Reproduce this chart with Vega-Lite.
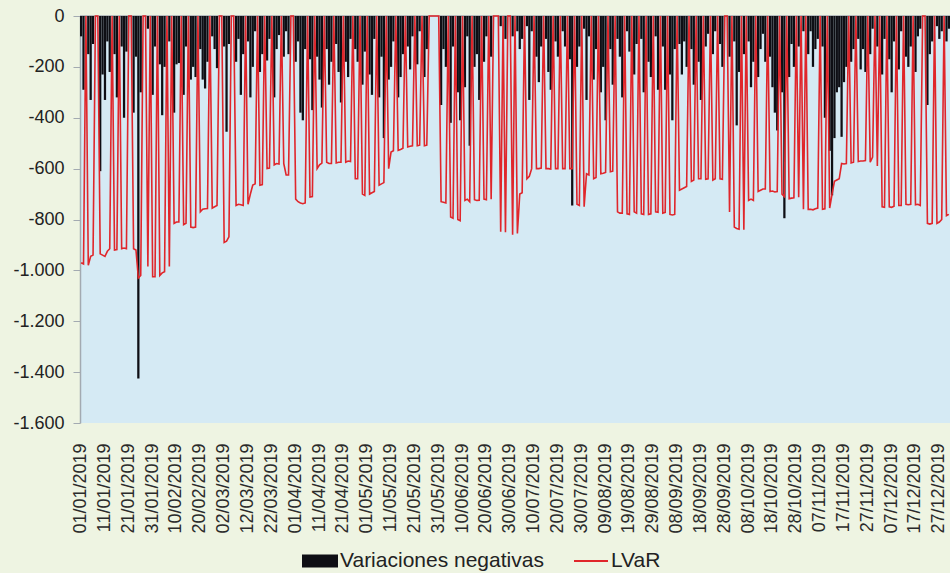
{
"$schema": "https://vega.github.io/schema/vega-lite/v6.json",
"width": 870, "height": 407,
"autosize": {"type": "none"},
"padding": {"left": 80, "top": 16, "right": 0, "bottom": 150},
"background": "#eef4e2",
"config": {"view": {"fill": "#d5eaf4", "stroke": null}, "font": "Liberation Sans"},
"datasets": {"main": [
{"d":"01/01/2019","v":-80,"l":-970},{"d":"02/01/2019","v":-290,"l":-975},{"d":"03/01/2019","v":0,"l":0},{"d":"04/01/2019","v":-150,"l":-980},{"d":"05/01/2019","v":-330,"l":-945},{"d":"06/01/2019","v":-110,"l":-940},{"d":"07/01/2019","v":0,"l":0},{"d":"08/01/2019","v":0,"l":0},{"d":"09/01/2019","v":-610,"l":-935},{"d":"10/01/2019","v":-230,"l":-940},{"d":"11/01/2019","v":-330,"l":-945},{"d":"12/01/2019","v":-100,"l":-925},{"d":"13/01/2019","v":-220,"l":-915},{"d":"14/01/2019","v":0,"l":0},{"d":"15/01/2019","v":-150,"l":-920},{"d":"16/01/2019","v":-320,"l":-918},{"d":"17/01/2019","v":0,"l":0},{"d":"18/01/2019","v":-120,"l":-915},{"d":"19/01/2019","v":-400,"l":-912},{"d":"20/01/2019","v":-140,"l":-915},{"d":"21/01/2019","v":0,"l":0},{"d":"22/01/2019","v":0,"l":0},{"d":"23/01/2019","v":-380,"l":-915},{"d":"24/01/2019","v":-160,"l":-920},{"d":"25/01/2019","v":-1425,"l":-1030},{"d":"26/01/2019","v":-300,"l":-1020},{"d":"27/01/2019","v":0,"l":0},{"d":"28/01/2019","v":0,"l":0},{"d":"29/01/2019","v":-50,"l":-985},{"d":"30/01/2019","v":0,"l":0},{"d":"31/01/2019","v":-310,"l":-1025},
{"d":"01/02/2019","v":-120,"l":-1025},{"d":"02/02/2019","v":0,"l":0},{"d":"03/02/2019","v":-190,"l":-1020},{"d":"04/02/2019","v":-390,"l":-1010},{"d":"05/02/2019","v":-200,"l":-1005},{"d":"06/02/2019","v":0,"l":0},{"d":"07/02/2019","v":-100,"l":-985},{"d":"08/02/2019","v":0,"l":0},{"d":"09/02/2019","v":-380,"l":-815},{"d":"10/02/2019","v":-190,"l":-810},{"d":"11/02/2019","v":-185,"l":-810},{"d":"12/02/2019","v":0,"l":0},{"d":"13/02/2019","v":-310,"l":-820},{"d":"14/02/2019","v":-120,"l":-815},{"d":"15/02/2019","v":0,"l":0},{"d":"16/02/2019","v":-250,"l":-830},{"d":"17/02/2019","v":-200,"l":-832},{"d":"18/02/2019","v":-240,"l":-830},{"d":"19/02/2019","v":0,"l":0},{"d":"20/02/2019","v":-130,"l":-770},{"d":"21/02/2019","v":-250,"l":-760},{"d":"22/02/2019","v":-285,"l":-758},{"d":"23/02/2019","v":-180,"l":-757},{"d":"24/02/2019","v":0,"l":0},{"d":"25/02/2019","v":-80,"l":-755},{"d":"26/02/2019","v":-130,"l":-750},{"d":"27/02/2019","v":-205,"l":-745},{"d":"28/02/2019","v":0,"l":0},
{"d":"01/03/2019","v":0,"l":0},{"d":"02/03/2019","v":-120,"l":-890},{"d":"03/03/2019","v":-455,"l":-885},{"d":"04/03/2019","v":-110,"l":-868},{"d":"05/03/2019","v":0,"l":0},{"d":"06/03/2019","v":0,"l":0},{"d":"07/03/2019","v":-180,"l":-745},{"d":"08/03/2019","v":-90,"l":-740},{"d":"09/03/2019","v":-310,"l":-742},{"d":"10/03/2019","v":-150,"l":-745},{"d":"11/03/2019","v":0,"l":0},{"d":"12/03/2019","v":-100,"l":-740},{"d":"13/03/2019","v":-320,"l":-700},{"d":"14/03/2019","v":-200,"l":-665},{"d":"15/03/2019","v":-60,"l":-660},{"d":"16/03/2019","v":0,"l":0},{"d":"17/03/2019","v":-220,"l":-665},{"d":"18/03/2019","v":-150,"l":-663},{"d":"19/03/2019","v":0,"l":0},{"d":"20/03/2019","v":-175,"l":-600},{"d":"21/03/2019","v":-90,"l":-598},{"d":"22/03/2019","v":0,"l":0},{"d":"23/03/2019","v":-320,"l":-585},{"d":"24/03/2019","v":-130,"l":-580},{"d":"25/03/2019","v":-75,"l":-582},{"d":"26/03/2019","v":0,"l":0},{"d":"27/03/2019","v":-160,"l":-580},{"d":"28/03/2019","v":-60,"l":-625},{"d":"29/03/2019","v":-150,"l":-625},{"d":"30/03/2019","v":0,"l":0},{"d":"31/03/2019","v":0,"l":0},
{"d":"01/04/2019","v":-180,"l":-720},{"d":"02/04/2019","v":-100,"l":-730},{"d":"03/04/2019","v":-380,"l":-735},{"d":"04/04/2019","v":-410,"l":-738},{"d":"05/04/2019","v":-130,"l":-735},{"d":"06/04/2019","v":0,"l":0},{"d":"07/04/2019","v":-170,"l":-712},{"d":"08/04/2019","v":-370,"l":-710},{"d":"09/04/2019","v":0,"l":0},{"d":"10/04/2019","v":-160,"l":-600},{"d":"11/04/2019","v":-250,"l":-585},{"d":"12/04/2019","v":-360,"l":-578},{"d":"13/04/2019","v":0,"l":0},{"d":"14/04/2019","v":-130,"l":-575},{"d":"15/04/2019","v":-270,"l":-580},{"d":"16/04/2019","v":-180,"l":-580},{"d":"17/04/2019","v":0,"l":0},{"d":"18/04/2019","v":-110,"l":-578},{"d":"19/04/2019","v":-220,"l":-575},{"d":"20/04/2019","v":-340,"l":-575},{"d":"21/04/2019","v":0,"l":0},{"d":"22/04/2019","v":-180,"l":-575},{"d":"23/04/2019","v":-240,"l":-570},{"d":"24/04/2019","v":-90,"l":-572},{"d":"25/04/2019","v":0,"l":0},{"d":"26/04/2019","v":-130,"l":-640},{"d":"27/04/2019","v":-180,"l":-640},{"d":"28/04/2019","v":0,"l":0},{"d":"29/04/2019","v":-270,"l":-700},{"d":"30/04/2019","v":-140,"l":-705},
{"d":"01/05/2019","v":0,"l":0},{"d":"02/05/2019","v":-230,"l":-700},{"d":"03/05/2019","v":-310,"l":-695},{"d":"04/05/2019","v":-90,"l":-690},{"d":"05/05/2019","v":0,"l":0},{"d":"06/05/2019","v":-320,"l":-665},{"d":"07/05/2019","v":-160,"l":-660},{"d":"08/05/2019","v":-480,"l":-655},{"d":"09/05/2019","v":0,"l":0},{"d":"10/05/2019","v":-250,"l":-600},{"d":"11/05/2019","v":-200,"l":-535},{"d":"12/05/2019","v":-100,"l":-530},{"d":"13/05/2019","v":0,"l":0},{"d":"14/05/2019","v":-320,"l":-528},{"d":"15/05/2019","v":-240,"l":-525},{"d":"16/05/2019","v":-150,"l":-520},{"d":"17/05/2019","v":0,"l":0},{"d":"18/05/2019","v":-120,"l":-515},{"d":"19/05/2019","v":-210,"l":-512},{"d":"20/05/2019","v":-80,"l":-510},{"d":"21/05/2019","v":0,"l":0},{"d":"22/05/2019","v":-190,"l":-510},{"d":"23/05/2019","v":-60,"l":-508},{"d":"24/05/2019","v":0,"l":0},{"d":"25/05/2019","v":-240,"l":-510},{"d":"26/05/2019","v":-130,"l":-508},{"d":"27/05/2019","v":0,"l":0},{"d":"28/05/2019","v":0,"l":0},{"d":"29/05/2019","v":0,"l":0},{"d":"30/05/2019","v":0,"l":0},{"d":"31/05/2019","v":0,"l":0},
{"d":"01/06/2019","v":-350,"l":-730},{"d":"02/06/2019","v":-130,"l":-732},{"d":"03/06/2019","v":-200,"l":-735},{"d":"04/06/2019","v":0,"l":0},{"d":"05/06/2019","v":-420,"l":-790},{"d":"06/06/2019","v":-120,"l":-795},{"d":"07/06/2019","v":0,"l":0},{"d":"08/06/2019","v":-300,"l":-800},{"d":"09/06/2019","v":-410,"l":-805},{"d":"10/06/2019","v":0,"l":0},{"d":"11/06/2019","v":-280,"l":-725},{"d":"12/06/2019","v":-80,"l":-720},{"d":"13/06/2019","v":-510,"l":-730},{"d":"14/06/2019","v":0,"l":0},{"d":"15/06/2019","v":-200,"l":-722},{"d":"16/06/2019","v":-150,"l":-725},{"d":"17/06/2019","v":-330,"l":-724},{"d":"18/06/2019","v":0,"l":0},{"d":"19/06/2019","v":-180,"l":-720},{"d":"20/06/2019","v":-80,"l":-722},{"d":"21/06/2019","v":0,"l":0},{"d":"22/06/2019","v":-160,"l":-720},{"d":"23/06/2019","v":0,"l":0},{"d":"24/06/2019","v":0,"l":0},{"d":"25/06/2019","v":0,"l":0},{"d":"26/06/2019","v":-40,"l":-848},{"d":"27/06/2019","v":0,"l":0},{"d":"28/06/2019","v":-90,"l":-850},{"d":"29/06/2019","v":0,"l":0},{"d":"30/06/2019","v":0,"l":0},
{"d":"01/07/2019","v":-80,"l":-860},{"d":"02/07/2019","v":0,"l":0},{"d":"03/07/2019","v":-60,"l":-855},{"d":"04/07/2019","v":-130,"l":-700},{"d":"05/07/2019","v":-90,"l":-695},{"d":"06/07/2019","v":0,"l":0},{"d":"07/07/2019","v":-40,"l":-640},{"d":"08/07/2019","v":-330,"l":-630},{"d":"09/07/2019","v":-60,"l":-600},{"d":"10/07/2019","v":0,"l":0},{"d":"11/07/2019","v":-160,"l":-600},{"d":"12/07/2019","v":-260,"l":-600},{"d":"13/07/2019","v":-120,"l":-598},{"d":"14/07/2019","v":0,"l":0},{"d":"15/07/2019","v":-90,"l":-600},{"d":"16/07/2019","v":-220,"l":-600},{"d":"17/07/2019","v":-290,"l":-602},{"d":"18/07/2019","v":0,"l":0},{"d":"19/07/2019","v":-100,"l":-600},{"d":"20/07/2019","v":-160,"l":-600},{"d":"21/07/2019","v":0,"l":0},{"d":"22/07/2019","v":-60,"l":-600},{"d":"23/07/2019","v":-120,"l":-600},{"d":"24/07/2019","v":0,"l":0},{"d":"25/07/2019","v":-170,"l":-600},{"d":"26/07/2019","v":-745,"l":-600},{"d":"27/07/2019","v":0,"l":0},{"d":"28/07/2019","v":-200,"l":-740},{"d":"29/07/2019","v":-120,"l":-745},{"d":"30/07/2019","v":0,"l":0},{"d":"31/07/2019","v":-50,"l":-750},
{"d":"01/08/2019","v":-330,"l":-620},{"d":"02/08/2019","v":-80,"l":-625},{"d":"03/08/2019","v":0,"l":0},{"d":"04/08/2019","v":-250,"l":-640},{"d":"05/08/2019","v":-130,"l":-635},{"d":"06/08/2019","v":0,"l":0},{"d":"07/08/2019","v":-300,"l":-620},{"d":"08/08/2019","v":-200,"l":-618},{"d":"09/08/2019","v":-410,"l":-615},{"d":"10/08/2019","v":0,"l":0},{"d":"11/08/2019","v":-130,"l":-612},{"d":"12/08/2019","v":-270,"l":-610},{"d":"13/08/2019","v":0,"l":0},{"d":"14/08/2019","v":-90,"l":-770},{"d":"15/08/2019","v":-160,"l":-775},{"d":"16/08/2019","v":-320,"l":-775},{"d":"17/08/2019","v":0,"l":0},{"d":"18/08/2019","v":-60,"l":-778},{"d":"19/08/2019","v":-140,"l":-780},{"d":"20/08/2019","v":0,"l":0},{"d":"21/08/2019","v":-230,"l":-770},{"d":"22/08/2019","v":-110,"l":-775},{"d":"23/08/2019","v":0,"l":0},{"d":"24/08/2019","v":-90,"l":-778},{"d":"25/08/2019","v":-300,"l":-780},{"d":"26/08/2019","v":0,"l":0},{"d":"27/08/2019","v":-180,"l":-780},{"d":"28/08/2019","v":-240,"l":-778},{"d":"29/08/2019","v":0,"l":0},{"d":"30/08/2019","v":-80,"l":-770},{"d":"31/08/2019","v":-290,"l":-772},
{"d":"01/09/2019","v":0,"l":0},{"d":"02/09/2019","v":-120,"l":-775},{"d":"03/09/2019","v":-290,"l":-772},{"d":"04/09/2019","v":0,"l":0},{"d":"05/09/2019","v":-230,"l":-780},{"d":"06/09/2019","v":-410,"l":-782},{"d":"07/09/2019","v":-130,"l":-780},{"d":"08/09/2019","v":0,"l":0},{"d":"09/09/2019","v":-110,"l":-685},{"d":"10/09/2019","v":-230,"l":-680},{"d":"11/09/2019","v":-100,"l":-675},{"d":"12/09/2019","v":-200,"l":-670},{"d":"13/09/2019","v":0,"l":0},{"d":"14/09/2019","v":-130,"l":-650},{"d":"15/09/2019","v":-270,"l":-645},{"d":"16/09/2019","v":0,"l":0},{"d":"17/09/2019","v":-180,"l":-640},{"d":"18/09/2019","v":-330,"l":-640},{"d":"19/09/2019","v":0,"l":0},{"d":"20/09/2019","v":-120,"l":-642},{"d":"21/09/2019","v":-70,"l":-640},{"d":"22/09/2019","v":0,"l":0},{"d":"23/09/2019","v":-150,"l":-645},{"d":"24/09/2019","v":-60,"l":-640},{"d":"25/09/2019","v":0,"l":0},{"d":"26/09/2019","v":-110,"l":-640},{"d":"27/09/2019","v":-200,"l":-642},{"d":"28/09/2019","v":0,"l":0},{"d":"29/09/2019","v":0,"l":0},{"d":"30/09/2019","v":-160,"l":-770},
{"d":"01/10/2019","v":0,"l":0},{"d":"02/10/2019","v":-100,"l":-830},{"d":"03/10/2019","v":-430,"l":-835},{"d":"04/10/2019","v":-220,"l":-838},{"d":"05/10/2019","v":0,"l":0},{"d":"06/10/2019","v":-150,"l":-840},{"d":"07/10/2019","v":0,"l":0},{"d":"08/10/2019","v":-100,"l":-725},{"d":"09/10/2019","v":-280,"l":-720},{"d":"10/10/2019","v":-180,"l":-725},{"d":"11/10/2019","v":0,"l":0},{"d":"12/10/2019","v":-240,"l":-690},{"d":"13/10/2019","v":-130,"l":-685},{"d":"14/10/2019","v":-70,"l":-680},{"d":"15/10/2019","v":-180,"l":-680},{"d":"16/10/2019","v":0,"l":0},{"d":"17/10/2019","v":-160,"l":-690},{"d":"18/10/2019","v":-280,"l":-688},{"d":"19/10/2019","v":-380,"l":-692},{"d":"20/10/2019","v":-450,"l":-690},{"d":"21/10/2019","v":0,"l":0},{"d":"22/10/2019","v":-300,"l":-700},{"d":"23/10/2019","v":-795,"l":-710},{"d":"24/10/2019","v":0,"l":0},{"d":"25/10/2019","v":-240,"l":-718},{"d":"26/10/2019","v":-110,"l":-716},{"d":"27/10/2019","v":-200,"l":-715},{"d":"28/10/2019","v":0,"l":0},{"d":"29/10/2019","v":-120,"l":-712},{"d":"30/10/2019","v":0,"l":0},{"d":"31/10/2019","v":-60,"l":-760},
{"d":"01/11/2019","v":0,"l":0},{"d":"02/11/2019","v":-150,"l":-760},{"d":"03/11/2019","v":-60,"l":-760},{"d":"04/11/2019","v":-200,"l":-762},{"d":"05/11/2019","v":-130,"l":-758},{"d":"06/11/2019","v":-90,"l":-755},{"d":"07/11/2019","v":0,"l":0},{"d":"08/11/2019","v":-120,"l":-760},{"d":"09/11/2019","v":-400,"l":-758},{"d":"10/11/2019","v":0,"l":0},{"d":"11/11/2019","v":-530,"l":-755},{"d":"12/11/2019","v":-705,"l":-700},{"d":"13/11/2019","v":-480,"l":-650},{"d":"14/11/2019","v":-300,"l":-645},{"d":"15/11/2019","v":-280,"l":-640},{"d":"16/11/2019","v":-475,"l":-580},{"d":"17/11/2019","v":-260,"l":-582},{"d":"18/11/2019","v":-200,"l":-580},{"d":"19/11/2019","v":0,"l":0},{"d":"20/11/2019","v":-180,"l":-578},{"d":"21/11/2019","v":-130,"l":-575},{"d":"22/11/2019","v":0,"l":0},{"d":"23/11/2019","v":-90,"l":-572},{"d":"24/11/2019","v":-210,"l":-570},{"d":"25/11/2019","v":-130,"l":-570},{"d":"26/11/2019","v":-220,"l":-568},{"d":"27/11/2019","v":0,"l":0},{"d":"28/11/2019","v":-150,"l":-575},{"d":"29/11/2019","v":-50,"l":-555},{"d":"30/11/2019","v":0,"l":0},
{"d":"01/12/2019","v":-120,"l":-590},{"d":"02/12/2019","v":0,"l":0},{"d":"03/12/2019","v":-230,"l":-750},{"d":"04/12/2019","v":-90,"l":-752},{"d":"05/12/2019","v":0,"l":0},{"d":"06/12/2019","v":-170,"l":-750},{"d":"07/12/2019","v":-300,"l":-752},{"d":"08/12/2019","v":-100,"l":-748},{"d":"09/12/2019","v":0,"l":0},{"d":"10/12/2019","v":-210,"l":-745},{"d":"11/12/2019","v":-60,"l":-745},{"d":"12/12/2019","v":0,"l":0},{"d":"13/12/2019","v":-160,"l":-740},{"d":"14/12/2019","v":-200,"l":-742},{"d":"15/12/2019","v":-120,"l":-740},{"d":"16/12/2019","v":0,"l":0},{"d":"17/12/2019","v":-220,"l":-742},{"d":"18/12/2019","v":-80,"l":-740},{"d":"19/12/2019","v":-50,"l":-745},{"d":"20/12/2019","v":0,"l":0},{"d":"21/12/2019","v":0,"l":0},{"d":"22/12/2019","v":-350,"l":-815},{"d":"23/12/2019","v":-150,"l":-818},{"d":"24/12/2019","v":-100,"l":-815},{"d":"25/12/2019","v":0,"l":0},{"d":"26/12/2019","v":-40,"l":-815},{"d":"27/12/2019","v":-90,"l":-810},{"d":"28/12/2019","v":-60,"l":-800},{"d":"29/12/2019","v":0,"l":0},{"d":"30/12/2019","v":-100,"l":-785},{"d":"31/12/2019","v":-50,"l":-780}
]},
"layer": [
{"data": {"values": [{"z": 0}]},
 "mark": {"type": "rule", "color": "#a3aab1", "strokeWidth": 1.5},
 "encoding": {"y": {"field": "z", "type": "quantitative"}}},
{"data": {"name": "main"},
 "mark": {"type": "bar", "color": "#0e0e14"},
 "encoding": {
  "x": {"field": "d", "type": "ordinal", "sort": null,
   "scale": {"paddingInner": 0.05, "paddingOuter": 0},
   "axis": {"title": null, "values": ["01/01/2019","11/01/2019","21/01/2019","31/01/2019","10/02/2019","20/02/2019","02/03/2019","12/03/2019","22/03/2019","01/04/2019","11/04/2019","21/04/2019","01/05/2019","11/05/2019","21/05/2019","31/05/2019","10/06/2019","20/06/2019","30/06/2019","10/07/2019","20/07/2019","30/07/2019","09/08/2019","19/08/2019","29/08/2019","08/09/2019","18/09/2019","28/09/2019","08/10/2019","18/10/2019","28/10/2019","07/11/2019","17/11/2019","27/11/2019","07/12/2019","17/12/2019","27/12/2019"],
    "labelAngle": -90, "labelAlign": "right", "labelBaseline": "middle", "labelFontSize": 18, "labelColor": "#2a2a2a", "labelFont": "Liberation Sans", "ticks": false, "domain": false, "labelPadding": 20, "labelOverlap": false}},
  "y": {"field": "v", "type": "quantitative",
   "scale": {"domain": [-1600, 0], "nice": false},
   "axis": {"title": null, "grid": false, "values": [0,-200,-400,-600,-800,-1000,-1200,-1400,-1600],
    "labelExpr": "datum.value == 0 ? '0' : (datum.value <= -1000 ? '-1.' + format(-datum.value - 1000, '03d') : '-' + format(-datum.value, 'd'))",
    "labelFontSize": 18, "labelColor": "#222222", "labelFont": "Liberation Sans", "domainColor": "#a3aab1", "domainWidth": 1.5, "tickColor": "#a3aab1", "tickSize": 7, "labelPadding": 9}},
  "color": {"datum": "Variaciones negativas", "type": "nominal",
   "scale": {"domain": ["Variaciones negativas", "LVaR"], "range": ["#0e0e14", "#e0262b"]},
   "legend": {"title": null, "orient": "none", "legendX": 222, "legendY": 527, "direction": "horizontal",
    "labelFontSize": 21, "labelLimit": 400, "labelColor": "#222222", "labelFont": "Liberation Sans", "labelOffset": 2, "columnPadding": 26, "symbolSize": 1156,
    "encode": {"symbols": {"update": {
      "shape": {"signal": "datum.value === 'LVaR' ? 'M-1,0H1' : 'M-1,-0.32H1V0.32H-1Z'"},
      "fill": {"signal": "datum.value === 'LVaR' ? 'transparent' : '#0e0e14'"},
      "stroke": {"signal": "datum.value === 'LVaR' ? '#e0262b' : '#0e0e14'"},
      "strokeWidth": {"value": 2}}}}}}}},
{"data": {"name": "main"},
 "mark": {"type": "line", "strokeWidth": 1.6},
 "encoding": {
  "x": {"field": "d", "type": "ordinal", "sort": null},
  "y": {"field": "l", "type": "quantitative"},
  "color": {"datum": "LVaR", "type": "nominal"}}}
]
}
